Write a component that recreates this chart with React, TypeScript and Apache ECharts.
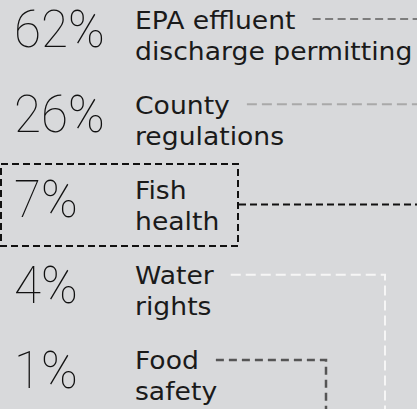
import React, { useEffect, useRef } from 'react';
import * as echarts from 'echarts';

// ---- data ----
const shares: number[] = [62, 26, 7, 4, 1];
const labels: string[] = [
  'EPA effluent\ndischarge permitting',
  'County\nregulations',
  'Fish\nhealth',
  'Water\nrights',
  'Food\nsafety',
];

// ---- layout / style (not data) ----
const W = 417;
const H = 409;
const BG = '#d8d9db';
const LABEL_FAMILY = '"DejaVu Sans", sans-serif';
const LABEL_SIZE = 24;
const LABEL_SCALE_X = 1.11;
const PCT_FAMILY = 'Roboto, "DejaVu Sans", sans-serif';
const PCT_SIZE = 52;
const PCT_SCALE_X = 0.95;
const PCT_WEIGHT = 100;
const PCT_X = 14;
const LABEL_X = 135;
const GAP = 17;

type RowStyle = { stroke: string; dash: number[]; width: number; kind: 'line' | 'box' | 'elbow'; turnX?: number };
const rowStyles: RowStyle[] = [
  { stroke: '#7d7d7d', dash: [8, 4.5], width: 2, kind: 'line' },
  { stroke: '#a9a9a9', dash: [10, 5], width: 2, kind: 'line' },
  { stroke: '#111111', dash: [7, 4], width: 2, kind: 'box' },
  { stroke: '#f6f6f6', dash: [10, 5], width: 2, kind: 'elbow', turnX: 385 },
  { stroke: '#555555', dash: [8, 5], width: 2.5, kind: 'elbow', turnX: 326 },
];

function measure(text: string, font: string): number {
  const c = document.createElement('canvas');
  const ctx = c.getContext('2d');
  if (!ctx) return text.length * 14;
  ctx.font = font;
  return ctx.measureText(text).width;
}

export default function App() {
  const ref = useRef<HTMLDivElement>(null);
  useEffect(() => {
    if (!ref.current) return;
    const chart = echarts.init(ref.current, undefined, { renderer: 'svg' });
    const labelFont = `400 ${LABEL_SIZE}px ${LABEL_FAMILY}`;
    const firstLineWidths = labels.map((l) => measure(l.split('\n')[0], labelFont) * LABEL_SCALE_X);

    chart.setOption({
      animation: false,
      backgroundColor: BG,
      grid: { left: 0, right: 0, top: 0, bottom: 0 },
      xAxis: { type: 'value', min: 0, max: 100, show: false },
      yAxis: { type: 'value', min: -0.4, max: 4.4, inverse: true, show: false },
      series: [
        {
          type: 'custom',
          data: shares.map((v, i) => [v, i]),
          encode: { x: 0, y: 1 },
          renderItem: (params: any, api: any) => {
            const idx = api.value(1) as number;
            const v = api.value(0) as number;
            const cy = api.coord([0, idx])[1];
            const rs = rowStyles[idx];
            const lineY = cy - 15;
            const children: any[] = [
              {
                type: 'text',
                x: PCT_X,
                y: cy - 5,
                scaleX: PCT_SCALE_X,
                style: {
                  text: `${v}%`,
                  x: 0,
                  y: 0,
                  fill: '#111111',
                  fontFamily: PCT_FAMILY,
                  fontSize: PCT_SIZE,
                  fontWeight: PCT_WEIGHT,
                  align: 'left',
                  verticalAlign: 'middle',
                },
              },
              {
                type: 'text',
                x: LABEL_X,
                y: cy + 1.5,
                scaleX: LABEL_SCALE_X,
                style: {
                  text: labels[idx],
                  x: 0,
                  y: 0,
                  fill: '#1a1a1a',
                  fontFamily: LABEL_FAMILY,
                  fontSize: LABEL_SIZE,
                  lineHeight: 31,
                  align: 'left',
                  verticalAlign: 'middle',
                },
              },
            ];
            const startX = LABEL_X + firstLineWidths[idx] + GAP;
            const stroke = { stroke: rs.stroke, lineWidth: rs.width, lineDash: rs.dash, fill: 'none' };
            if (rs.kind === 'line') {
              children.push({ type: 'line', shape: { x1: startX, y1: lineY, x2: W, y2: lineY }, style: stroke });
            } else if (rs.kind === 'box') {
              children.push({ type: 'rect', shape: { x: 1, y: cy - 40.5, width: 237, height: 82 }, style: stroke });
              children.push({ type: 'line', shape: { x1: 239, y1: cy, x2: W, y2: cy }, style: stroke });
            } else {
              children.push({
                type: 'polyline',
                shape: { points: [[startX, lineY], [rs.turnX, lineY], [rs.turnX, H + 5]] },
                style: stroke,
              });
            }
            return { type: 'group', children };
          },
        },
      ],
    });
    return () => chart.dispose();
  }, []);
  return <div ref={ref} style={{ position: 'fixed', left: 0, top: 0, width: W, height: H }} />;
}
